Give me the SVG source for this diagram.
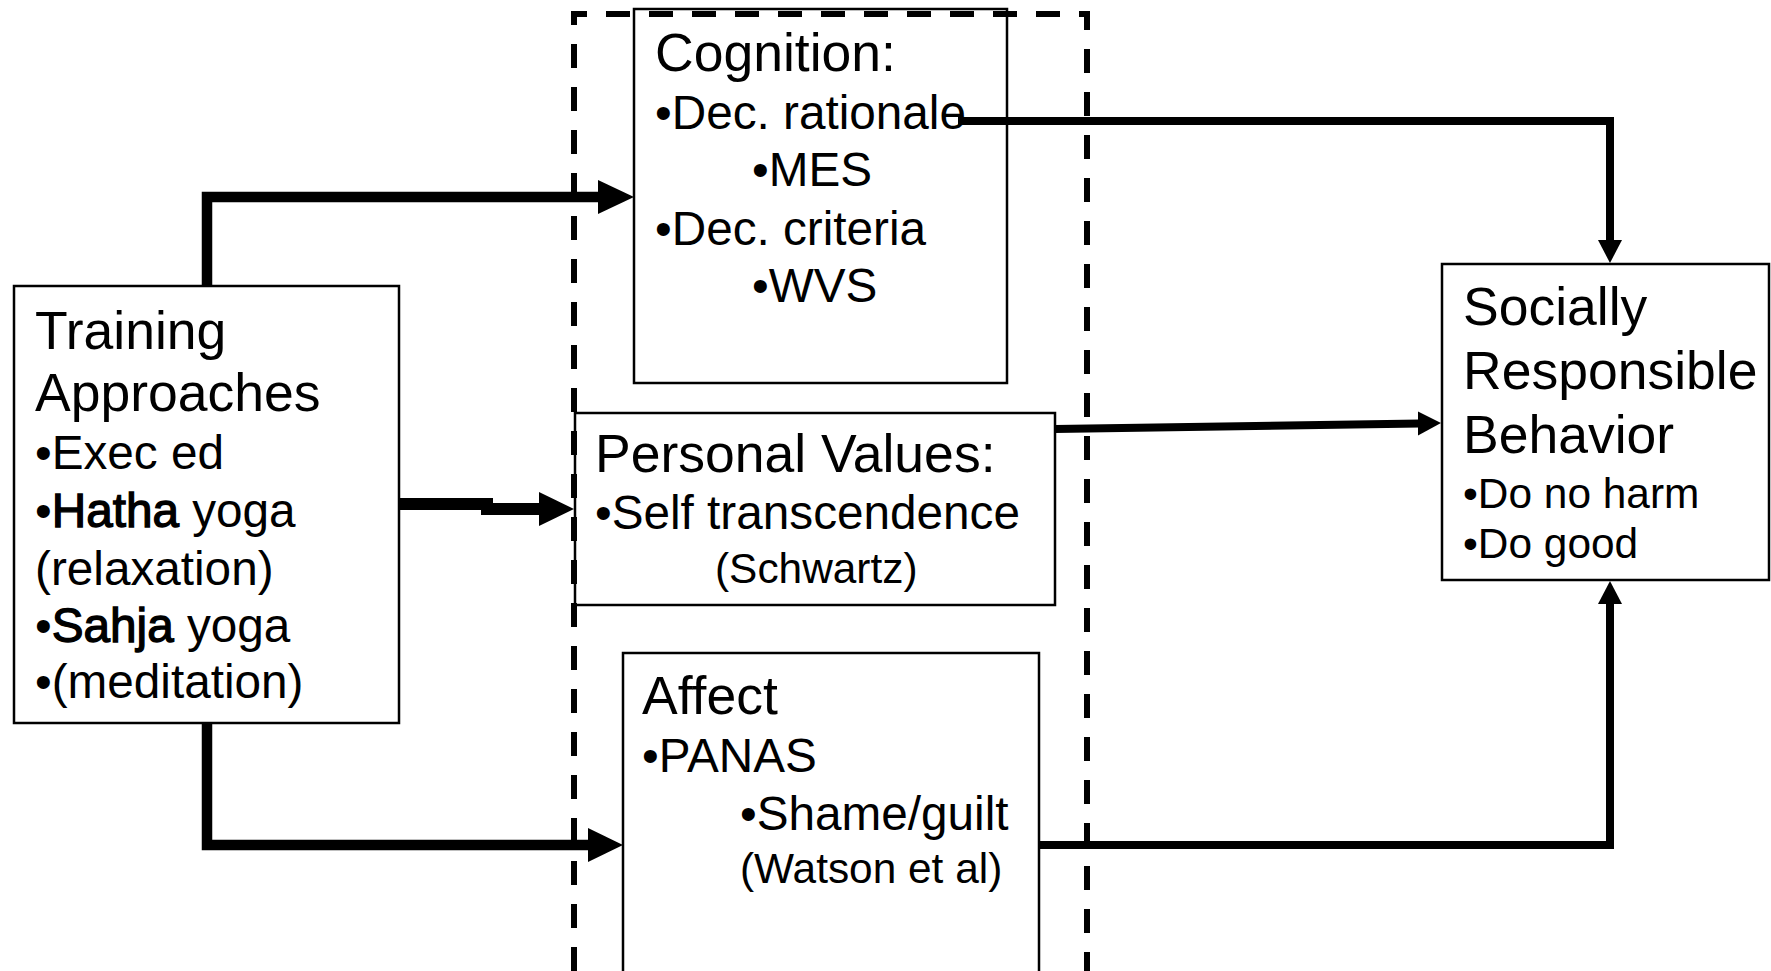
<svg xmlns="http://www.w3.org/2000/svg" width="1771" height="971" viewBox="0 0 1771 971">
<style>
  .box{fill:#fff;stroke:#000;stroke-width:2.5}
  .t{font-family:"Liberation Sans",Arial,sans-serif;fill:#000}
  .h{font-size:53.5px}
  .b{font-size:47.7px}
  .s{font-size:42.4px}
  .bold{stroke:#000;stroke-width:1.3}
  .cl{fill:none;stroke:#000;stroke-width:10.5;stroke-linejoin:miter;stroke-linecap:butt}
  .cr{fill:none;stroke:#000;stroke-width:8;stroke-linejoin:miter;stroke-linecap:butt}
  .ah{fill:#000}
  .dash{fill:none;stroke:#000;stroke-width:6;stroke-dasharray:24 19}
</style>
<rect width="1771" height="971" fill="#fff"/>

<g id="training">
  <rect class="box" x="14" y="286" width="385" height="437"/>
  <text class="t h" x="35" y="349">Training</text>
  <text class="t h" x="35" y="411">Approaches</text>
  <text class="t b" x="35" y="469">•Exec ed</text>
  <text class="t b" x="35" y="527">•<tspan class="bold">Hatha</tspan> yoga</text>
  <text class="t b" x="35" y="585">(relaxation)</text>
  <text class="t b" x="35" y="642">•<tspan class="bold">Sahja</tspan> yoga</text>
  <text class="t b" x="35" y="698">•(meditation)</text>
</g>

<g id="cognition">
  <rect class="box" x="634" y="9" width="373" height="374"/>
  <text class="t h" x="655" y="71">Cognition:</text>
  <text class="t b" x="655" y="129">•Dec. rationale</text>
  <text class="t b" x="752" y="186">•MES</text>
  <text class="t b" x="655" y="245">•Dec. criteria</text>
  <text class="t b" x="752" y="302">•WVS</text>
</g>

<g id="personal-values">
  <rect class="box" x="575" y="413" width="480" height="192"/>
  <text class="t h" x="595" y="472">Personal Values:</text>
  <text class="t b" x="595" y="529">•Self transcendence</text>
  <text class="t s" x="715" y="583">(Schwartz)</text>
</g>

<g id="affect">
  <rect class="box" x="623" y="653" width="416" height="340"/>
  <text class="t h" x="642" y="714">Affect</text>
  <text class="t b" x="642" y="772">•PANAS</text>
  <text class="t b" x="740" y="830">•Shame/guilt</text>
  <text class="t s" x="740" y="883">(Watson et al)</text>
</g>

<g id="srb">
  <rect class="box" x="1442" y="264" width="327" height="316"/>
  <text class="t h" x="1463" y="325">Socially</text>
  <text class="t h" x="1463" y="389">Responsible</text>
  <text class="t h" x="1463" y="453">Behavior</text>
  <text class="t s" x="1463" y="508">•Do no harm</text>
  <text class="t s" x="1463" y="558">•Do good</text>
</g>

<g id="mediator-frame">
  <path class="dash" d="M574,971 V14 H1087 V971"/>
</g>

<g id="connectors">
  <polyline class="cl" points="207,286 207,197 600,197"/>
  <polygon class="ah" points="598,180 634,197 598,214"/>

  <line class="cl" style="stroke-width:12" x1="399" y1="504" x2="493" y2="504"/>
  <line class="cl" style="stroke-width:12" x1="481" y1="509" x2="541" y2="509"/>
  <polygon class="ah" points="539,492 574,509 539,526"/>

  <polyline class="cl" points="207,723 207,845 590,845"/>
  <polygon class="ah" points="588,828 623,845 588,862"/>

  <polyline class="cr" points="958,121 1610,121 1610,242"/>
  <polygon class="ah" points="1598,240 1610,263 1622,240"/>

  <line class="cr" x1="1055" y1="429" x2="1420" y2="423.5"/>
  <polygon class="ah" points="1418,411.5 1441,423 1418,435.5"/>

  <polyline class="cr" points="1039,845 1610,845 1610,602"/>
  <polygon class="ah" points="1598,604 1610,581 1622,604"/>
</g>
</svg>
